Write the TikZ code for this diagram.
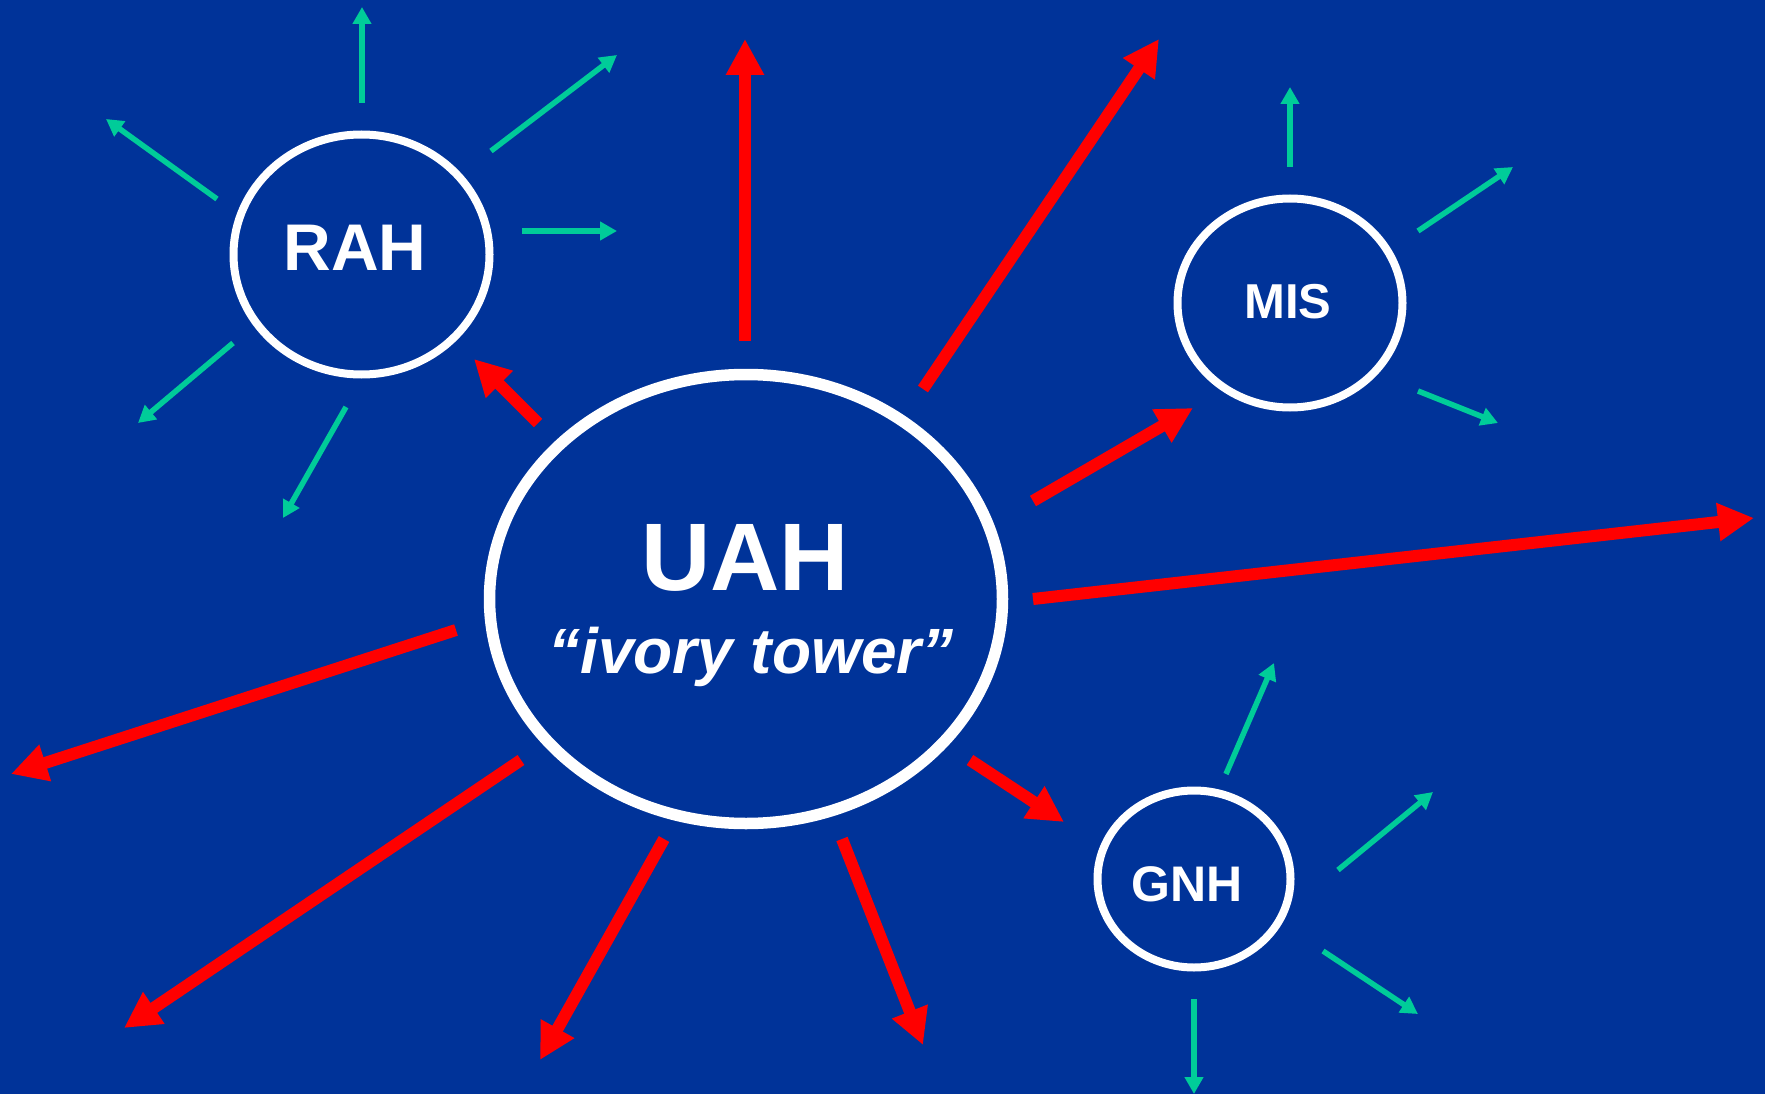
\documentclass[tikz,border=0pt]{standalone}
\usepackage{fontspec}
\setmainfont{Liberation Sans}
\usetikzlibrary{shapes.geometric,arrows.meta}
\definecolor{slide blue}{RGB}{0,51,153}
\definecolor{sea green}{RGB}{0,204,153}
\tikzstyle{ring}=[
        draw = white,
        ellipse,
        inner sep = 0pt,
        line width = 8pt
    ]
\tikzstyle{red arrow}=[
        draw = red,
        fill = red,
        line width = 12pt,
        -{Triangle[length=36pt,width=36pt]}
    ]
\tikzstyle{green arrow}=[
        draw = sea green,
        fill = sea green,
        line width = 5.5pt,
        -{Triangle[length=17pt,width=18pt]}
    ]

\begin{document}
\begin{tikzpicture}[x=1pt, y=-1pt, label/.style = {text=white, inner sep=0pt, anchor=base}]
        \fill[slide blue] (0,0) rectangle (1765,1094);
        \useasboundingbox (0,0) rectangle (1765,1094);

        % the four bodies
        \node[ring, line width=11.5pt, minimum width=513pt, minimum height=449pt] (uah) at (746,599) {};
        \node[ring, minimum width=256pt, minimum height=240pt] (rah) at (361.5,254.5) {};
        \node[ring, minimum width=225pt, minimum height=209pt] (mis) at (1290,303) {};
        \node[ring, minimum width=193pt, minimum height=177pt] (gnh) at (1194,879) {};

        \node[label, font=\bfseries\fontsize{96}{96}\selectfont] (uah name) at (745,590) {UAH};
        \node[label, font=\bfseries\itshape\fontsize{64}{64}\selectfont] (uah tag) at (751,673) {“ivory tower”};
        \node[label, font=\bfseries\fontsize{66}{66}\selectfont] (rah name) at (355,271) {RAH};
        \node[label, font=\bfseries\fontsize{49}{49}\selectfont] (mis name) at (1288,318) {MIS};
        \node[label, font=\bfseries\fontsize{50}{50}\selectfont] (gnh name) at (1187,901) {GNH};

        % red arrows out of UAH
        \coordinate (up a) at (745,341);   \coordinate (up b) at (745,39);
        \coordinate (ne a) at (923,389);   \coordinate (ne b) at (1159,39);
        \coordinate (tomis a) at (1033,501); \coordinate (tomis b) at (1193,408);
        \coordinate (e a) at (1033,599);   \coordinate (e b) at (1754,518);
        \coordinate (w a) at (456,630);    \coordinate (w b) at (11,774);
        \coordinate (sw a) at (521,760);   \coordinate (sw b) at (124,1028);
        \coordinate (s a) at (664,839);    \coordinate (s b) at (540,1060);
        \coordinate (se a) at (842,839);   \coordinate (se b) at (923,1045);
        \coordinate (togn a) at (970,760); \coordinate (togn b) at (1064,822);
        \coordinate (tora a) at (538,423); \coordinate (tora b) at (474,359);

        \draw[red arrow] (up a) -- (up b);
        \draw[red arrow] (ne a) -- (ne b);
        \draw[red arrow] (tomis a) -- (tomis b);
        \draw[red arrow] (e a) -- (e b);
        \draw[red arrow] (w a) -- (w b);
        \draw[red arrow] (sw a) -- (sw b);
        \draw[red arrow] (s a) -- (s b);
        \draw[red arrow] (se a) -- (se b);
        \draw[red arrow] (togn a) -- (togn b);
        \draw[red arrow] (tora a) -- (tora b);

        % green arrows round RAH
        \coordinate (ra1) at (362,103);  \coordinate (rb1) at (362,7);
        \coordinate (ra2) at (491,151);  \coordinate (rb2) at (617,55);
        \coordinate (ra3) at (522,231);  \coordinate (rb3) at (617,231);
        \coordinate (ra4) at (217,199);  \coordinate (rb4) at (106,119);
        \coordinate (ra5) at (233,343);  \coordinate (rb5) at (138,423);
        \coordinate (ra6) at (346,407);  \coordinate (rb6) at (283,518);
        % round MIS
        \coordinate (ma1) at (1290,167); \coordinate (mb1) at (1290,87);
        \coordinate (ma2) at (1418,231); \coordinate (mb2) at (1513,167);
        \coordinate (ma3) at (1418,391); \coordinate (mb3) at (1498,423);
        % round GNH
        \coordinate (ga1) at (1226,774); \coordinate (gb1) at (1274,663);
        \coordinate (ga2) at (1338,870); \coordinate (gb2) at (1433,792);
        \coordinate (ga3) at (1323,951); \coordinate (gb3) at (1418,1014);
        \coordinate (ga4) at (1194,999); \coordinate (gb4) at (1194,1094);

        \foreach \i in {1,...,6} \draw[green arrow] (ra\i) -- (rb\i);
        \foreach \i in {1,2,3} \draw[green arrow] (ma\i) -- (mb\i);
        \foreach \i in {1,...,4} \draw[green arrow] (ga\i) -- (gb\i);
    \end{tikzpicture}
\end{document}
